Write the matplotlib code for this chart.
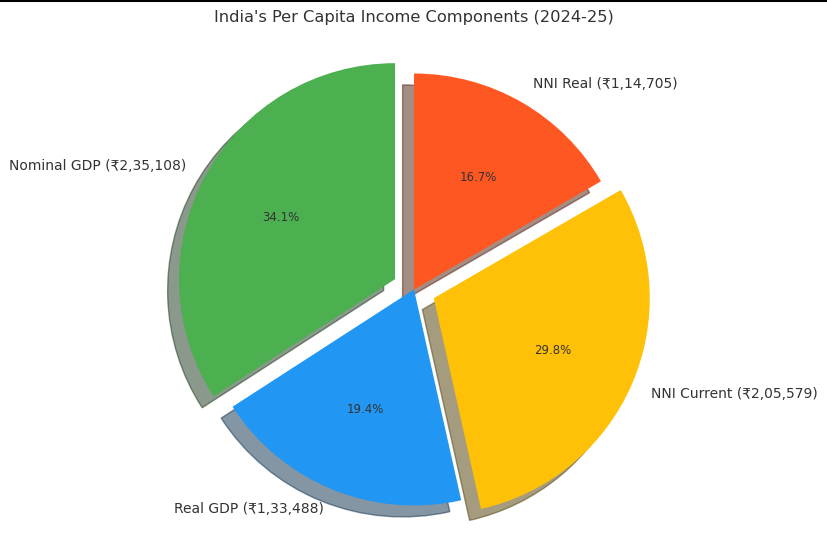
import matplotlib
matplotlib.use('Agg')
import matplotlib.pyplot as plt
from matplotlib.lines import Line2D

# ── 数据 ──────────────────────────────────────────────
labels = ["Nominal GDP (₹2,35,108)", "Real GDP (₹1,33,488)",
          "NNI Current (₹2,05,579)", "NNI Real (₹1,14,705)"]
values = [235108, 133488, 205579, 114705]
colors = ["#4CAF50", "#2196F3", "#FFC107", "#FF5722"]
explode = [0.1, 0, 0.1, 0]

W, H = 828, 540
fig = plt.figure(figsize=(W / 100, H / 100), dpi=100)

# 饼图中心约 (414, 289) px，半径约 216 px
cx, cy, R, lim = 414, 289.5, 216, 1.25
half = R * lim
ax = fig.add_axes([(cx - half) / W, (H - cy - half) / H, 2 * half / W, 2 * half / H])

ax.pie(values, labels=labels, colors=colors, explode=explode,
       autopct='%1.1f%%', startangle=90,
       shadow={'ox': -0.038, 'oy': -0.038},
       textprops={'color': '#333333', 'fontsize': 10})
for t in ax.texts:
    if t.get_text().endswith('%'):
        t.set_fontsize(8.5)
ax.set_xlim(-lim, lim)
ax.set_ylim(-lim, lim)
ax.set_aspect('equal', adjustable='box')

fig.text(0.5, 1 - 17.5 / H, "India's Per Capita Income Components (2024-25)",
         ha='center', va='center', fontsize=11.7, color='#333333')

fig.add_artist(Line2D([0, 1], [0.999, 0.999], color='black', lw=1.5))
plt.savefig('out.png', dpi=100)
